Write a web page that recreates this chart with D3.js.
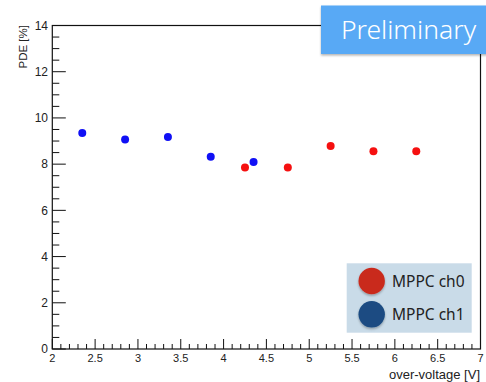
<!DOCTYPE html>
<html><head><meta charset="utf-8">
<script src="https://cdn.jsdelivr.net/npm/d3@7"></script>
<style>html,body{margin:0;padding:0;background:#fff;}svg{display:block;}</style>
</head><body>
<script>
const ch0X = [4.25, 4.75, 5.25, 5.75, 6.25];
const ch0Y = [7.86, 7.86, 8.78, 8.56, 8.56];
const ch1X = [2.35, 2.85, 3.35, 3.85, 4.35];
const ch1Y = [9.35, 9.07, 9.17, 8.32, 8.09];
const xTicks = [2, 2.5, 3, 3.5, 4, 4.5, 5, 5.5, 6, 6.5, 7];
const yTicks = [0, 2, 4, 6, 8, 10, 12, 14];
const legendLabels = ["MPPC ch0", "MPPC ch1"];
const legendColors = ["#c92a1d", "#1b4c82"];

const W = 486, H = 382;
const svg = d3.select("body").append("svg").attr("width", W).attr("height", H);
const defs = svg.append("defs");
const f = defs.append("filter").attr("id","sh").attr("x","-20%").attr("y","-20%").attr("width","150%").attr("height","150%");
f.append("feDropShadow").attr("dx",0).attr("dy",1.5).attr("stdDeviation",1.2).attr("flood-color","#000").attr("flood-opacity",0.3);

const x = d3.scaleLinear().domain([2, 7]).range([52.3, 480.5]);
const y = d3.scaleLinear().domain([0, 14]).range([349, 25.5]);
const font = "'Liberation Sans', Arial, sans-serif";

// frame
svg.append("rect").attr("x", x(2)).attr("y", y(14)).attr("width", x(7)-x(2)).attr("height", y(0)-y(14))
  .attr("fill","none").attr("stroke","#111").attr("stroke-width",1.2);

// x ticks
const xMinor = d3.range(20, 71).map(v => v/10).filter(v => Math.abs(v*2 - Math.round(v*2)) > 1e-6);
svg.append("g").selectAll("line").data(xMinor).join("line")
  .attr("x1", d=>x(d)).attr("x2", d=>x(d)).attr("y1", y(0)).attr("y2", y(0)-5)
  .attr("stroke","#111").attr("stroke-width",1);
svg.append("g").selectAll("line").data(xTicks).join("line")
  .attr("x1", d=>x(d)).attr("x2", d=>x(d)).attr("y1", y(0)).attr("y2", y(0)-10)
  .attr("stroke","#111").attr("stroke-width",1);
svg.append("g").selectAll("text").data(xTicks).join("text")
  .attr("x", d=>x(d)).attr("y", 362).attr("text-anchor","middle")
  .attr("font-family", font).attr("font-size", 11).attr("fill","#222")
  .text(d=>d);

// y ticks
const yMinor = d3.range(0, 29).map(v => v/2).filter(v => v % 2 !== 0);
svg.append("g").selectAll("line").data(yMinor).join("line")
  .attr("x1", x(2)).attr("x2", x(2)+7).attr("y1", d=>y(d)).attr("y2", d=>y(d))
  .attr("stroke","#111").attr("stroke-width",1);
svg.append("g").selectAll("line").data(yTicks).join("line")
  .attr("x1", x(2)).attr("x2", x(2)+13.5).attr("y1", d=>y(d)).attr("y2", d=>y(d))
  .attr("stroke","#111").attr("stroke-width",1);
svg.append("g").selectAll("text").data(yTicks).join("text")
  .attr("x", 48).attr("y", d=>y(d)+4.3).attr("text-anchor","end")
  .attr("font-family", font).attr("font-size", 12).attr("fill","#222")
  .text(d=>d);

// axis titles
svg.append("text").attr("x", 480).attr("y", 379).attr("text-anchor","end")
  .attr("font-family", font).attr("font-size", 13).attr("fill","#222").text("over-voltage [V]");
svg.append("text").attr("transform","translate(27,25) rotate(-90)").attr("text-anchor","end")
  .attr("font-family", font).attr("font-size", 11.5).attr("fill","#222").text("PDE [%]");

// points
svg.append("g").selectAll("circle").data(ch1X.map((v,i)=>[v,ch1Y[i]])).join("circle")
  .attr("cx", d=>x(d[0])).attr("cy", d=>y(d[1])).attr("r", 4).attr("fill","#1010f5");
svg.append("g").selectAll("circle").data(ch0X.map((v,i)=>[v,ch0Y[i]])).join("circle")
  .attr("cx", d=>x(d[0])).attr("cy", d=>y(d[1])).attr("r", 4).attr("fill","#f51010");

// Preliminary box
svg.append("rect").attr("x", 321).attr("y", 5.5).attr("width", 170).attr("height", 48.5)
  .attr("fill","#58a9f5").attr("filter","url(#sh)");
svg.append("text").attr("x", 408.5).attr("y", 38.5).attr("text-anchor","middle")
  .attr("font-family","'Noto Sans', 'Open Sans', sans-serif").attr("font-weight",300)
  .attr("font-size", 26.5).attr("fill","#fff").text("Preliminary");

// legend
svg.append("rect").attr("x", 346.7).attr("y", 263.3).attr("width", 125).attr("height", 69.4)
  .attr("fill","#c9dbe8");
const lg = svg.append("g").selectAll("g").data(legendLabels).join("g")
  .attr("transform", (d,i)=>`translate(0,${281 + i*33.3})`);
lg.append("circle").attr("cx", 371.7).attr("cy", 0).attr("r", 13.2)
  .attr("fill", (d,i)=>legendColors[i]).attr("filter","url(#sh)");
lg.append("text").attr("x", 392).attr("y", 5.5)
  .attr("font-family","'Noto Sans', 'Open Sans', sans-serif").attr("font-size", 15.5).attr("fill","#222")
  .text(d=>d);
</script>
</body></html>
